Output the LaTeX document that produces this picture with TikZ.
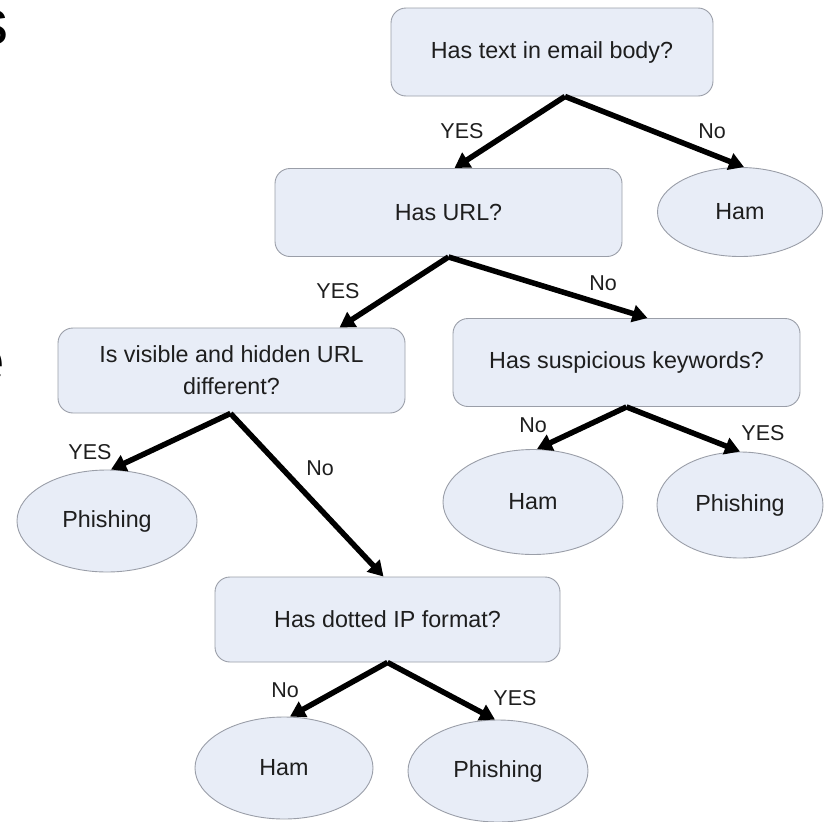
\documentclass[tikz,border=0pt]{standalone}
\usepackage{fontspec}
\setmainfont{Liberation Sans}
\usetikzlibrary{arrows.meta,shapes.geometric,calc}

\definecolor{boxfill}{HTML}{E8EDF7}
\definecolor{boxline}{HTML}{9A9EA8}
\definecolor{ink}{HTML}{1E1E1E}

\tikzset{
  question/.style={draw=boxline, line width=0.9pt, fill=boxfill, rounded corners=15pt,
    minimum width=347pt, minimum height=88pt, inner sep=0pt, align=center,
    text=ink, font=\fontsize{23.3}{32}\selectfont},
  leaf/.style={ellipse, draw=boxline, line width=0.9pt, fill=boxfill,
    minimum width=178pt, minimum height=102pt, inner sep=0pt,
    text=ink, font=\fontsize{23.3}{27}\selectfont},
  arr/.style={line width=5.5pt, -{Triangle[length=15pt,width=17pt]}, line join=miter},
  answer/.style={text=ink, font=\fontsize{21.5}{24}\selectfont, inner sep=0pt},
  fragment/.style={font=\fontsize{64}{64}\selectfont, inner sep=0pt, text=black}
}

\begin{document}
\begin{tikzpicture}[x=1pt, y=-1pt]
  \useasboundingbox (0,0) rectangle (825,822);
  \clip (0,0) rectangle (825,822);

  % letters of the neighbouring slide text, cut off at the left edge
  \node[fragment, anchor=east] (fragS) at (9,28) {s};
  \node[fragment, anchor=east] (fragE) at (5,366) {e};

  % decision boxes
  \node[question, minimum width=322pt] (q1) at (552,52) {Has text in email body?};
  \node[question] (q2) at (448.5,212.5) {Has URL?};
  \node[question, minimum height=85pt] (q3) at (231.5,370.5) {Is visible and hidden URL\\different?};
  \node[question] (q4) at (626.5,362.5) {Has suspicious keywords?};
  \node[question, minimum width=345pt, minimum height=85pt] (q5) at (387.5,619.5) {Has dotted IP format?};

  % outcomes
  \node[leaf, minimum width=165pt, minimum height=89pt] (hamA) at (740,212) {Ham};
  \node[leaf, minimum width=180pt] (phA) at (107,521) {Phishing};
  \node[leaf, minimum width=180pt, minimum height=105pt] (hamB) at (533,502) {Ham};
  \node[leaf, minimum width=166pt, minimum height=106pt] (phB) at (740,505) {Phishing};
  \node[leaf] (hamC) at (284,768) {Ham};
  \node[leaf, minimum width=180pt] (phC) at (498,771) {Phishing};

  % branch points under each question
  \coordinate (s1) at ([xshift=13pt]q1.south);
  \coordinate (s2) at (q2.south);
  \coordinate (s3) at ([xshift=-1pt]q3.south);
  \coordinate (s4) at (q4.south);
  \coordinate (s5) at (q5.south);

  % branches
  \draw[arr] (s1) -- ([xshift=6pt]q2.north);
  \draw[arr] (s1) -- ([xshift=4pt]hamA.north);
  \draw[arr] (s2) -- ([xshift=108pt]q3.north);
  \draw[arr] (s2) -- ([xshift=21pt]q4.north);
  \draw[arr] (s3) -- ([xshift=4pt]phA.north);
  \draw[arr] (s3) -- ([xshift=-4pt]q5.north);
  \draw[arr] (s4) -- ([xshift=4pt]hamB.north);
  \draw[arr] (s4) -- (phB.north);
  \draw[arr] (s5) -- ([xshift=6pt]hamC.north);
  \draw[arr] (s5) -- ([xshift=-3pt]phC.north);

  % branch labels
  \node[answer] (l1y) at (462,131) {YES};
  \node[answer] (l1n) at (712,131) {No};
  \node[answer] (l2y) at (338,291) {YES};
  \node[answer] (l2n) at (603,283) {No};
  \node[answer] (l3y) at (90,452) {YES};
  \node[answer] (l3n) at (320,468) {No};
  \node[answer] (l4n) at (533,425) {No};
  \node[answer] (l4y) at (763,433) {YES};
  \node[answer] (l5n) at (285,690) {No};
  \node[answer] (l5y) at (515,698) {YES};
\end{tikzpicture}
\end{document}
